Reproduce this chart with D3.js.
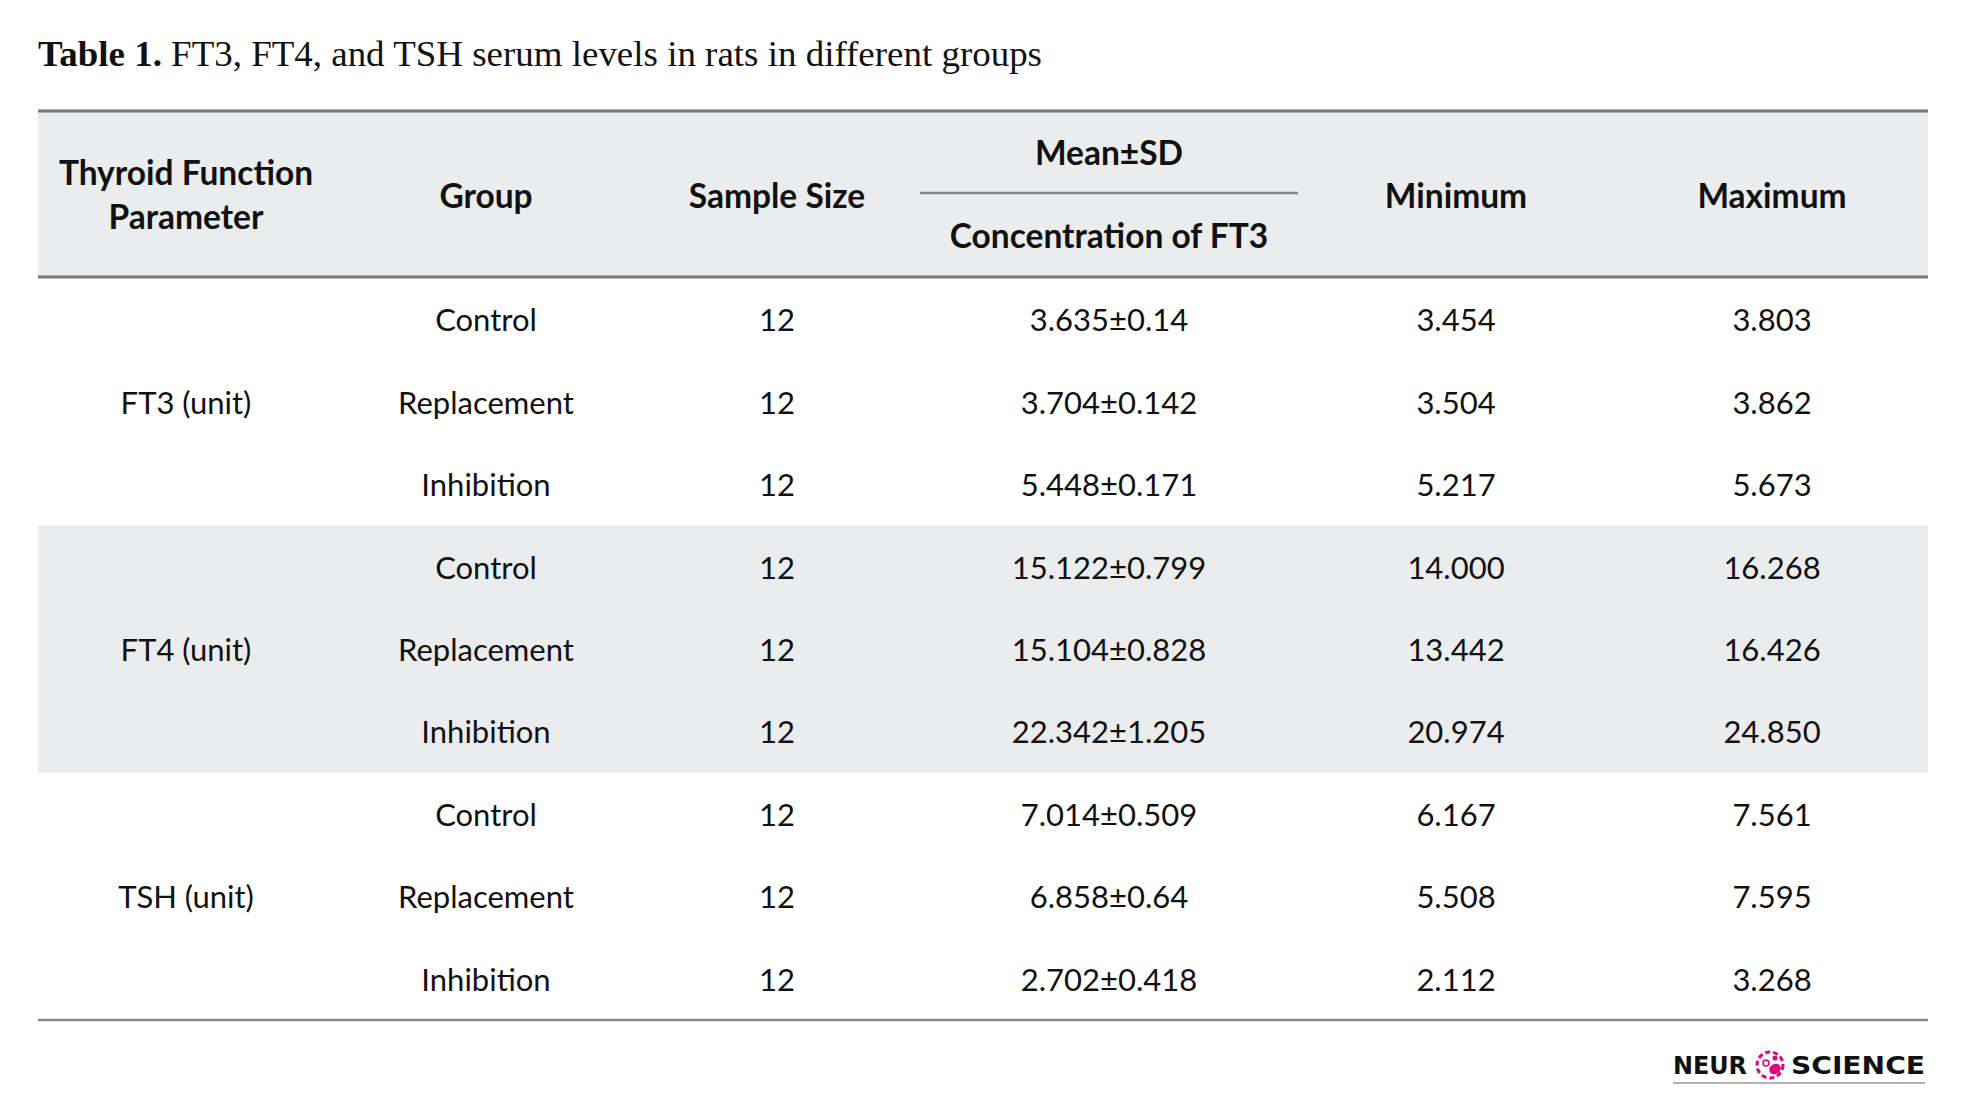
<!DOCTYPE html>
<html>
<head>
<meta charset="utf-8">
<script src="https://cdn.jsdelivr.net/npm/d3@7"></script>
<style>
  body { margin: 0; background: #fff; }
  svg { display: block; }
</style>
</head>
<body>
<svg id="chart"></svg>
<script>
// table contents
var parameters = ['FT3 (unit)', 'FT4 (unit)', 'TSH (unit)'];
var groups = ['Control', 'Replacement', 'Inhibition'];
var sampleSizes = [12, 12, 12, 12, 12, 12, 12, 12, 12];
var meanSD = ['3.635±0.14', '3.704±0.142', '5.448±0.171',
              '15.122±0.799', '15.104±0.828', '22.342±1.205',
              '7.014±0.509', '6.858±0.64', '2.702±0.418'];
var minimums = ['3.454', '3.504', '5.217', '14.000', '13.442', '20.974', '6.167', '5.508', '2.112'];
var maximums = ['3.803', '3.862', '5.673', '16.268', '16.426', '24.850', '7.561', '7.595', '3.268'];
var columnKeys = ['param', 'group', 'n', 'mean', 'min', 'max'];

var W = 1969, H = 1110;
var LEFT = 38, RIGHT = 1928;
var HEAD_TOP = 111, HEAD_BOTTOM = 277, BODY_BOTTOM = 1020;
var SANS = 'Lato, "Open Sans", sans-serif';

var svg = d3.select('#chart').attr('width', W).attr('height', H);
svg.append('rect').attr('width', W).attr('height', H).attr('fill', '#fff');

// column centres
var x = d3.scaleOrdinal()
	.domain(columnKeys)
	.range([186, 486, 777, 1109, 1456, 1772]);

// one band per body row
var rows = d3.range(parameters.length * groups.length);
var y = d3.scaleBand()
	.domain(rows)
	.range([HEAD_BOTTOM + 1, BODY_BOTTOM]);

// title
var title = svg.append('text')
	.attr('x', LEFT).attr('y', 66)
	.attr('font-family', '"Liberation Serif", "DejaVu Serif", serif')
	.attr('font-size', 35)
	.attr('fill', '#111');
title.append('tspan').attr('font-weight', 'bold').text('Table 1.');
title.append('tspan').text(' FT3, FT4, and TSH serum levels in rats in different groups');
title.attr('textLength', 1004).attr('lengthAdjust', 'spacingAndGlyphs');

// header band and shaded FT4 block
svg.append('rect')
	.attr('x', LEFT).attr('y', HEAD_TOP)
	.attr('width', RIGHT - LEFT).attr('height', HEAD_BOTTOM - HEAD_TOP)
	.attr('fill', '#ebecee');

svg.selectAll('rect.block')
	.data(parameters)
	.enter()
	.filter(function(d, i) { return i === 1; })
	.append('rect')
	.attr('class', 'block')
	.attr('x', LEFT)
	.attr('y', function() { return y(groups.length); })
	.attr('width', RIGHT - LEFT)
	.attr('height', y.bandwidth() * groups.length)
	.attr('fill', '#ebecee');

// rules
function rule(x1, x2, yy, w, c) {
	svg.append('line')
		.attr('x1', x1).attr('x2', x2).attr('y1', yy).attr('y2', yy)
		.attr('stroke', c).attr('stroke-width', w);
}
rule(LEFT, RIGHT, HEAD_TOP, 3, '#777');
rule(LEFT, RIGHT, HEAD_BOTTOM, 3, '#777');
rule(920, 1298, 193, 2.5, '#888');
rule(LEFT, RIGHT, BODY_BOTTOM, 2.5, '#888');

// header labels
var headers = [
	{ col: 'param', lines: ['Thyroid Function', 'Parameter'], y: [185, 229] },
	{ col: 'group', lines: ['Group'], y: [208] },
	{ col: 'n', lines: ['Sample Size'], y: [208] },
	{ col: 'mean', lines: ['Mean±SD'], y: [165] },
	{ col: 'mean', lines: ['Concentration of FT3'], y: [248] },
	{ col: 'min', lines: ['Minimum'], y: [208] },
	{ col: 'max', lines: ['Maximum'], y: [208] }
];
headers.forEach(function(h) {
	h.lines.forEach(function(line, k) {
		svg.append('text')
			.attr('x', x(h.col)).attr('y', h.y[k])
			.attr('text-anchor', 'middle')
			.attr('font-family', SANS)
			.attr('font-weight', 'bold')
			.attr('font-size', 33.5)
			.attr('fill', '#111')
			.text(line);
	});
});

// body cells
var cells = [];
rows.forEach(function(r) {
	cells.push({ col: 'group', row: r, text: groups[r % groups.length] });
	cells.push({ col: 'n', row: r, text: String(sampleSizes[r]) });
	cells.push({ col: 'mean', row: r, text: meanSD[r] });
	cells.push({ col: 'min', row: r, text: minimums[r] });
	cells.push({ col: 'max', row: r, text: maximums[r] });
});
parameters.forEach(function(p, i) {
	cells.push({ col: 'param', row: i * groups.length + 1, text: p });
});

svg.selectAll('text.cell')
	.data(cells)
	.enter()
	.append('text')
	.attr('class', 'cell')
	.attr('x', function(d) { return x(d.col); })
	.attr('y', function(d) { return y(d.row) + y.bandwidth() / 2 + 12; })
	.attr('text-anchor', 'middle')
	.attr('font-family', SANS)
	.attr('font-size', 31)
	.attr('fill', '#111')
	.text(function(d) { return d.text; });

// journal logo, bottom right
var logo = svg.append('g').attr('transform', 'translate(1673,1074)');
logo.append('text')
	.attr('x', 0).attr('y', 0)
	.attr('font-family', '"DejaVu Sans", sans-serif')
	.attr('font-weight', 'bold')
	.attr('font-size', 25)
	.attr('fill', '#111')
	.attr('textLength', 74).attr('lengthAdjust', 'spacingAndGlyphs')
	.text('NEUR');
logo.append('text')
	.attr('x', 118).attr('y', 0)
	.attr('font-family', '"DejaVu Sans", sans-serif')
	.attr('font-weight', 'bold')
	.attr('font-size', 25)
	.attr('fill', '#111')
	.attr('textLength', 134).attr('lengthAdjust', 'spacingAndGlyphs')
	.text('SCIENCE');
var icon = logo.append('g').attr('transform', 'translate(97,-9)');
icon.append('circle').attr('r', 13)
	.attr('fill', 'none').attr('stroke', '#e5007e')
	.attr('stroke-width', 3).attr('stroke-dasharray', '5 3');
icon.append('circle').attr('cx', -4).attr('cy', -2).attr('r', 3)
	.attr('fill', 'none').attr('stroke', '#e5007e').attr('stroke-width', 1.5);
icon.append('ellipse').attr('cx', 5).attr('cy', 4).attr('rx', 6).attr('ry', 5)
	.attr('transform', 'rotate(-30 5 4)')
	.attr('fill', '#e5007e');
icon.append('circle').attr('cx', 5).attr('cy', -7).attr('r', 2.5).attr('fill', '#e5007e');
rule(1673, 1925, 1083, 1.5, '#999');
</script>
</body>
</html>
